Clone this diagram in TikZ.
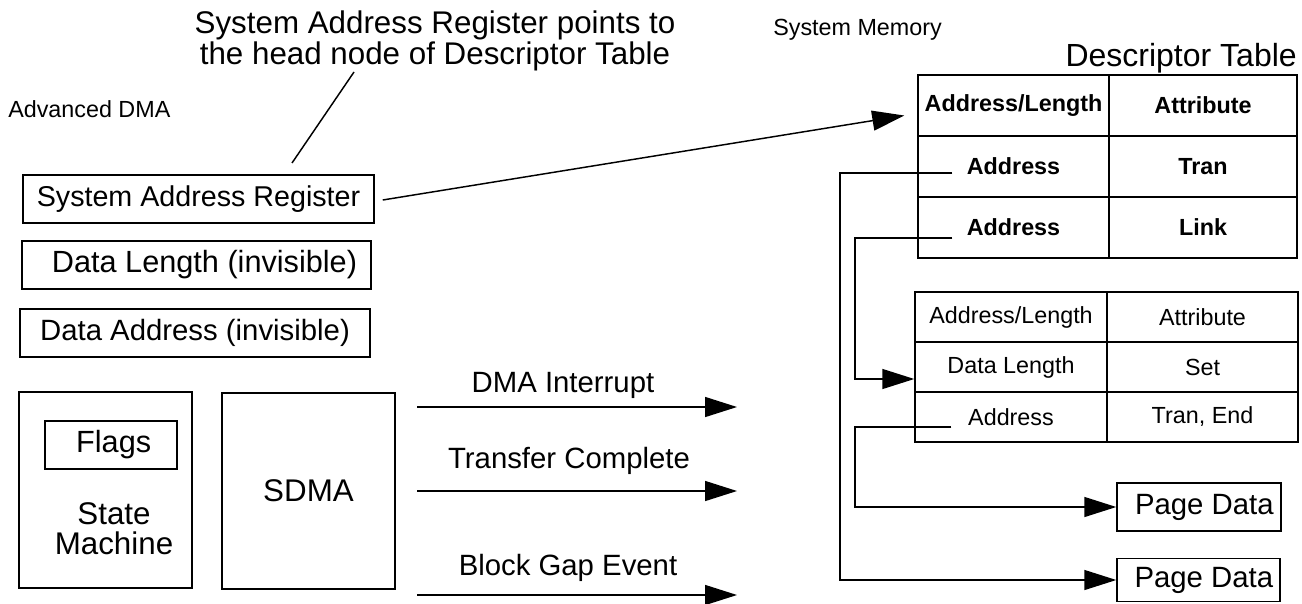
\documentclass[tikz,border=0pt]{standalone}
\usepackage{fontspec}
\setmainfont{Liberation Sans}
\usetikzlibrary{arrows.meta,calc}
\begin{document}
\begin{tikzpicture}[x=0.75pt,y=-0.75pt,
  big/.style={font=\fontsize{23}{21}\selectfont},
  small/.style={font=\fontsize{17.5}{18}\selectfont},
  box/.style={draw,line width=1.1pt,inner sep=0pt,big},
  cell/.style={draw,line width=1.1pt,inner sep=0pt,small},
  c1/.style={cell,minimum width=143.25pt,minimum height=45.75pt,font=\fontsize{17.5}{18}\selectfont\bfseries},
  c2/.style={cell,minimum width=141pt,minimum height=45.75pt,font=\fontsize{17.5}{18}\selectfont\bfseries},
  d1/.style={cell,minimum width=144pt,minimum height=37.5pt},
  d2/.style={cell,minimum width=143.25pt,minimum height=37.5pt},
  lbl/.style={inner sep=0pt},
  conn/.style={line width=1.1pt},
  arr/.style={line width=1.1pt,-{Triangle[length=24pt,width=15pt]}}]
\fill[white] (0,0) rectangle (1302,603);
\useasboundingbox (0,0) rectangle (1302,603);

% texts
\node[lbl,font=\fontsize{23.5}{20.5}\selectfont,align=center,anchor=north] (note) at (435,11)
  {System Address Register points to\\the head node of Descriptor Table};
\node[lbl,small,anchor=base west] (adma) at (8,117) {Advanced DMA};
\node[lbl,small,anchor=base west] (smem) at (773,36) {System Memory};
\node[lbl,font=\fontsize{24}{21}\selectfont,anchor=base east] (dtab) at (1297,66) {Descriptor Table};

% left boxes
\node[box,minimum width=263.25pt,minimum height=36pt,font=\fontsize{21.5}{21}\selectfont] (sar) at (198.5,199) {System Address Register};
\node[box,minimum width=261.75pt,minimum height=36pt] (dlen) at (196.5,265) {\hspace*{12pt}Data Length (invisible)};
\node[box,minimum width=262.5pt,minimum height=36pt,font=\fontsize{22}{21}\selectfont] (dadr) at (195,333) {Data Address (invisible)};

\node[box,minimum width=129.75pt,minimum height=147pt] (sm) at (105.5,490) {};
\node[box,minimum width=99pt,minimum height=36pt] (flags) at (111,445) {\hspace*{4pt}Flags};
\node[lbl,font=\fontsize{23.5}{22.5}\selectfont,align=center] (smtxt) at (114,529) {State\\Machine};
\node[box,minimum width=129.75pt,minimum height=147pt,font=\fontsize{23.5}{21}\selectfont] (sdma) at (308.5,491) {SDMA};

% signal arrows
\coordinate (a1s) at (417,407); \coordinate (a1e) at (737,407);
\coordinate (a2s) at (417,491); \coordinate (a2e) at (737,491);
\coordinate (a3s) at (417,595); \coordinate (a3e) at (737,595);
\draw[arr] (a1s) -- (a1e);
\draw[arr] (a2s) -- (a2e);
\draw[arr] (a3s) -- (a3e);
\node[lbl,font=\fontsize{22}{21}\selectfont,anchor=base] (l1) at (563,392) {DMA Interrupt};
\node[lbl,font=\fontsize{22}{21}\selectfont,anchor=base] (l2) at (569,468) {Transfer Complete};
\node[lbl,font=\fontsize{22}{21}\selectfont,anchor=base] (l3) at (568,575) {Block Gap Event};

% descriptor table 1
\node[c1] (t1a1) at (1013.5,105.5) {Address/Length};
\node[c2] (t1b1) at (1203,105.5) {Attribute};
\node[c1] (t1a2) at (1013.5,166.5) {Address};
\node[c2] (t1b2) at (1203,166.5) {Tran};
\node[c1] (t1a3) at (1013.5,227.5) {Address};
\node[c2] (t1b3) at (1203,227.5) {Link};

% descriptor table 2
\node[d1] (t2a1) at (1011,317) {Address/Length};
\node[d2] (t2b1) at (1202.5,317) {Attribute};
\node[d1] (t2a2) at (1011,367) {Data Length};
\node[d2] (t2b2) at (1202.5,367) {Set};
\node[d1] (t2a3) at (1011,417) {Address};
\node[d2] (t2b3) at (1202.5,417) {Tran, End};

% page data
\node[box,minimum width=123pt,minimum height=36pt,font=\fontsize{22}{21}\selectfont] (pd1) at (1199,507) {\hspace*{8pt}Page Data};
\node[box,minimum width=122.25pt,minimum height=32.25pt,font=\fontsize{22}{21}\selectfont] (pd2) at (1198.5,580) {\hspace*{8pt}Page Data};

% leader line
\coordinate (ldA) at (354,72);
\coordinate (ldB) at (292,163);
\draw[conn] (ldA) -- (ldB);

% SAR pointer
\draw[arr] ($(sar.east)+(8,1)$) -- ($(t1a1.west)+(-13,10)$);

% link lines
\coordinate (busA) at (840,0);
\coordinate (busB) at (855,0);
\coordinate (s1) at ($(t1a2.west)+(35,6.5)$);
\coordinate (s2) at ($(t1a3.west)+(35,10.5)$);
\coordinate (s3) at ($(t2a3.west)+(37,10)$);
\draw[arr] (s1) -- (s1 -| busA) |- (pd2.west);
\draw[arr] (s2) -- (s2 -| busB) |- ($(t2a2.west)+(0,12)$);
\draw[arr] (s3) -- (s3 -| busB) |- (pd1.west);
\end{tikzpicture}
\end{document}
